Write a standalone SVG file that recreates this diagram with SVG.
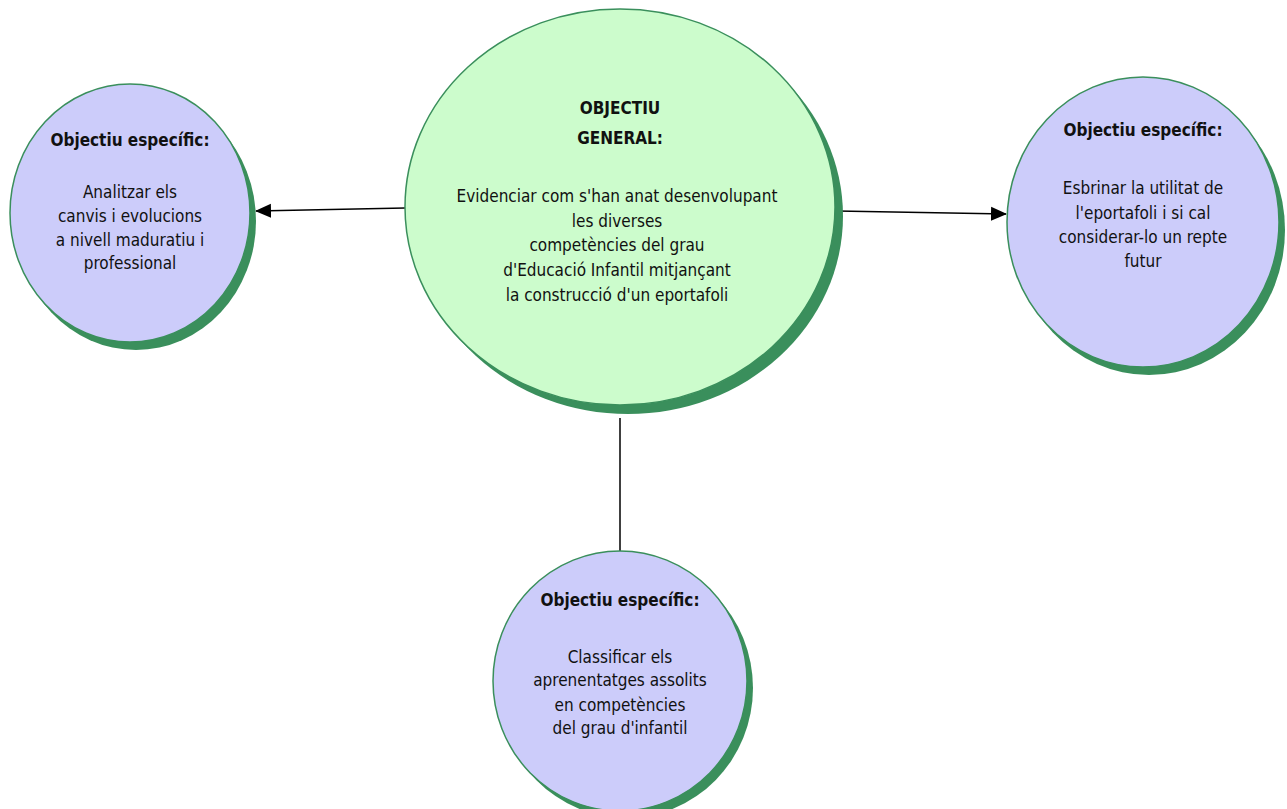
<svg xmlns="http://www.w3.org/2000/svg" width="1287" height="809" viewBox="0 0 1287 809">
<defs>
<style>
.shadow{fill:#3a8f5c;}
.spec{fill:#ccccfa;stroke:#3a8f5c;stroke-width:1.5;}
.gen{fill:#ccfccc;stroke:#3a8f5c;stroke-width:1.5;}
text{font-family:"DejaVu Sans Condensed","DejaVu Sans",sans-serif;font-size:17px;fill:#111;text-anchor:middle;}
.b{font-weight:bold;}
.conn{stroke:#000;stroke-width:1.5;fill:none;}
</style>
<marker id="arr" markerWidth="16" markerHeight="16" refX="15" refY="8" orient="auto" markerUnits="userSpaceOnUse" viewBox="0 0 16 16">
<path d="M0,1 L16,8 L0,15 Z" fill="#000"/>
</marker>
</defs>
<rect width="1287" height="809" fill="#fff"/>
<g id="connectors">
<line class="conn" x1="405" y1="208" x2="256" y2="211" marker-end="url(#arr)"/>
<line class="conn" x1="837" y1="211" x2="1006" y2="214" marker-end="url(#arr)"/>
<line class="conn" x1="620" y1="418" x2="620" y2="560"/>
</g>
<g id="general">
<ellipse class="shadow" cx="628" cy="216" rx="215" ry="198"/>
<ellipse class="gen" cx="620" cy="207" rx="215" ry="198"/>
<text class="b" x="620" y="114">OBJECTIU</text>
<text class="b" x="620" y="144">GENERAL:</text>
<text x="617" y="202">Evidenciar com s'han anat desenvolupant</text>
<text x="617" y="227">les diverses</text>
<text x="617" y="251">competències del grau</text>
<text x="617" y="276">d'Educació Infantil mitjançant</text>
<text x="617" y="301">la construcció d'un eportafoli</text>
</g>
<g id="spec-left">
<ellipse class="shadow" cx="136" cy="221" rx="120" ry="129"/>
<ellipse class="spec" cx="130" cy="213" rx="120" ry="129"/>
<text class="b" x="130" y="146">Objectiu específic:</text>
<text x="130" y="198">Analitzar els</text>
<text x="130" y="222">canvis i evolucions</text>
<text x="130" y="246">a nivell maduratiu i</text>
<text x="130" y="269">professional</text>
</g>
<g id="spec-right">
<ellipse class="shadow" cx="1149" cy="230" rx="136" ry="145"/>
<ellipse class="spec" cx="1143" cy="222" rx="136" ry="145"/>
<text class="b" x="1143" y="136">Objectiu específic:</text>
<text x="1143" y="194">Esbrinar la utilitat de</text>
<text x="1143" y="219">l'eportafoli i si cal</text>
<text x="1143" y="243">considerar-lo un repte</text>
<text x="1143" y="267">futur</text>
</g>
<g id="spec-bottom">
<ellipse class="shadow" cx="626" cy="688" rx="127" ry="130"/>
<ellipse class="spec" cx="620" cy="681" rx="127" ry="130"/>
<text class="b" x="620" y="606">Objectiu específic:</text>
<text x="620" y="663">Classificar els</text>
<text x="620" y="686">aprenentatges assolits</text>
<text x="620" y="711">en competències</text>
<text x="620" y="734">del grau d'infantil</text>
</g>
</svg>
